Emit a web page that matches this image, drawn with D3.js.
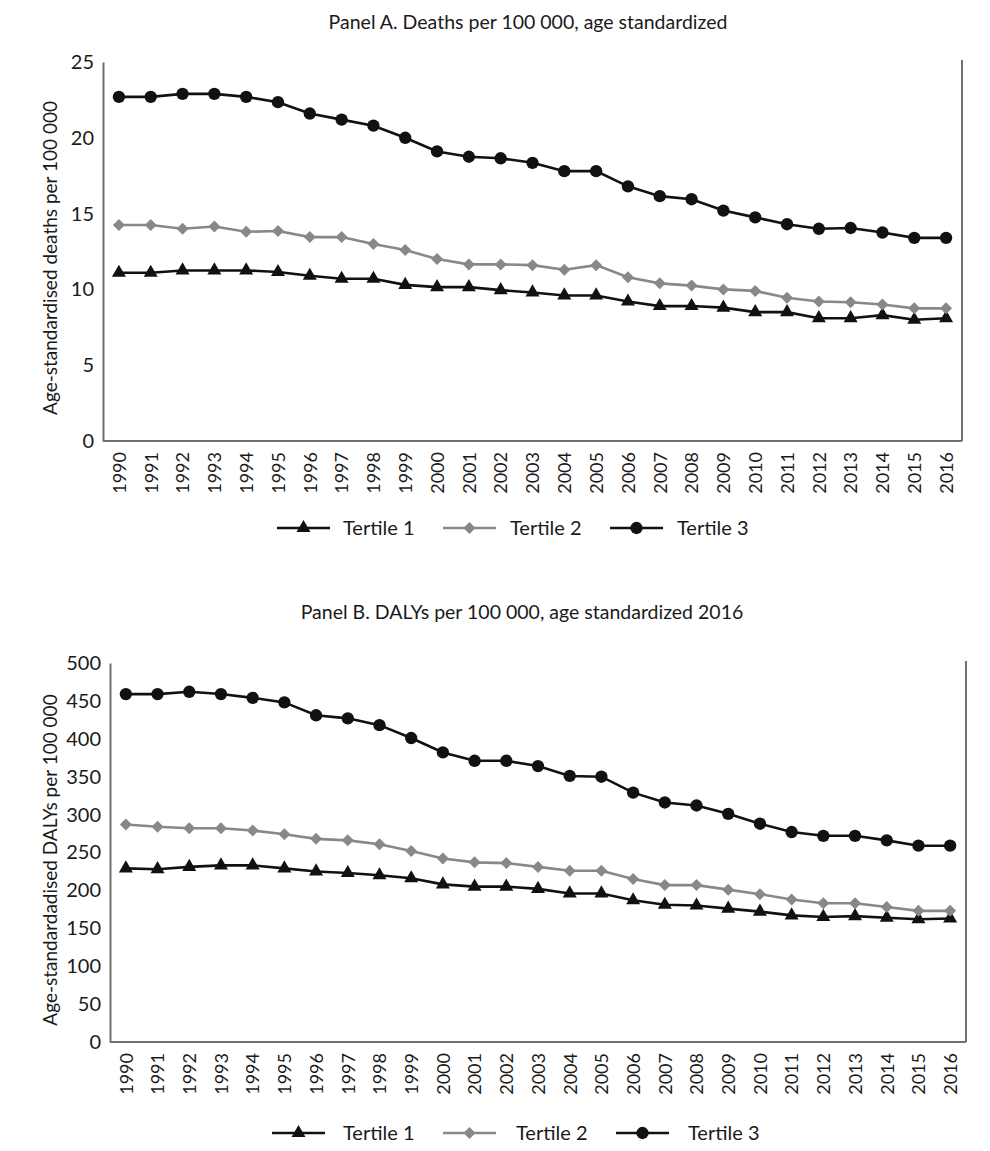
<!DOCTYPE html>
<html>
<head>
<meta charset="utf-8">
<script src="https://cdn.jsdelivr.net/npm/d3@7.9.0/dist/d3.min.js"></script>
<style>
  body { margin: 0; background: #fff; }
  text { font-family: Lato, "Open Sans", sans-serif; fill: #1a1a1a; }
</style>
</head>
<body>
<svg id="chart" width="990" height="1151"></svg>
<script>
const years = d3.range(1990, 2017).map(String);
const seriesNames = ["Tertile 1", "Tertile 2", "Tertile 3"];

// Panel A: deaths per 100 000
const deathsT1 = [11.1, 11.1, 11.25, 11.25, 11.25, 11.15, 10.9, 10.7, 10.7, 10.3, 10.15, 10.15, 9.95, 9.8, 9.6, 9.6, 9.2, 8.9, 8.9, 8.8, 8.5, 8.5, 8.1, 8.1, 8.3, 8.0, 8.1];
const deathsT2 = [14.25, 14.25, 14.0, 14.15, 13.8, 13.85, 13.45, 13.45, 13.0, 12.6, 12.0, 11.65, 11.65, 11.6, 11.3, 11.6, 10.8, 10.4, 10.25, 10.0, 9.9, 9.45, 9.2, 9.15, 9.0, 8.75, 8.75];
const deathsT3 = [22.7, 22.7, 22.9, 22.9, 22.7, 22.35, 21.6, 21.2, 20.8, 20.0, 19.1, 18.75, 18.65, 18.35, 17.8, 17.8, 16.8, 16.15, 15.95, 15.2, 14.75, 14.3, 14.0, 14.05, 13.75, 13.4, 13.4];
const deathsTicks = [0, 5, 10, 15, 20, 25];

// Panel B: DALYs per 100 000
const dalysT1 = [229, 228, 231, 233, 233, 229, 225, 223, 220, 216, 208, 205, 205, 202, 196, 196, 187, 181, 180, 176, 172, 167, 165, 166, 164, 162, 163];
const dalysT2 = [287, 284, 282, 282, 279, 274, 268, 266, 261, 252, 242, 237, 236, 231, 226, 226, 215, 207, 207, 201, 195, 188, 183, 183, 178, 173, 173];
const dalysT3 = [459, 459, 462, 459, 454, 448, 431, 427, 418, 401, 382, 371, 371, 364, 351, 350, 329, 316, 312, 301, 288, 277, 272, 272, 266, 259, 259];
const dalysTicks = [0, 50, 100, 150, 200, 250, 300, 350, 400, 450, 500];

const colors = ["#111", "#888", "#111"];
const shapes = [d3.symbolTriangle, d3.symbolSquare, d3.symbolCircle];
const shapeSizes = [85, 72, 120];
const shapeRotate = [0, 45, 0];

const svg = d3.select("#chart");
svg.append("rect").attr("width", 990).attr("height", 1151).attr("fill", "#fff");

function drawPanel(p) {
  const g = svg.append("g");
  const x = d3.scalePoint().domain(years).range([p.left, p.right]).padding(0.5);
  const y = d3.scaleLinear().domain([0, p.max]).range([p.bottom, p.top]);

  g.append("text")
    .attr("x", p.titleX).attr("y", p.titleY)
    .attr("text-anchor", "middle")
    .style("font-size", "19.5px")
    .text(p.title);

  // y axis
  const ya = g.append("g").attr("transform", `translate(${p.left},0)`)
    .call(d3.axisLeft(y).tickValues(p.ticks).tickSize(0).tickPadding(9));
  ya.select(".domain").attr("stroke", "#707070").attr("stroke-width", 2);
  ya.selectAll("text").style("font-size", "20px").style("font-family", "Lato, sans-serif").attr("fill", "#1a1a1a");

  // x axis
  const xa = g.append("g").attr("transform", `translate(0,${p.bottom})`)
    .call(d3.axisBottom(x).tickSize(0).tickPadding(0));
  xa.select(".domain").attr("stroke", "#707070").attr("stroke-width", 2)
    .attr("d", `M${p.left},0H${p.right}`);
  xa.selectAll("text")
    .style("font-size", "18px").style("font-family", "Lato, sans-serif").attr("fill", "#1a1a1a")
    .attr("text-anchor", "end")
    .attr("transform", "rotate(-90)")
    .attr("x", -11).attr("y", 0).attr("dy", "0.35em");

  // right border
  g.append("line")
    .attr("x1", p.right).attr("x2", p.right)
    .attr("y1", p.top - 2).attr("y2", p.bottom)
    .attr("stroke", "#707070").attr("stroke-width", 2);

  // y label
  g.append("text")
    .attr("transform", `translate(${p.labelX},${p.labelY}) rotate(-90)`)
    .attr("text-anchor", "middle")
    .style("font-size", "19px")
    .text(p.yLabel);

  const line = d3.line().x((d, i) => x(years[i])).y(d => y(d));

  p.series.forEach((vals, si) => {
    g.append("path")
      .attr("d", line(vals))
      .attr("fill", "none")
      .attr("stroke", colors[si])
      .attr("stroke-width", 2.6);
    g.selectAll(null).data(vals).enter().append("path")
      .attr("d", d3.symbol(shapes[si], shapeSizes[si]))
      .attr("transform", (d, i) => `translate(${x(years[i])},${y(d)}) rotate(${shapeRotate[si]})`)
      .attr("fill", colors[si]);
  });

  // legend
  seriesNames.forEach((name, si) => {
    const lx = p.legendX[si];
    const lg = g.append("g").attr("transform", `translate(${lx},${p.legendY})`);
    lg.append("line").attr("x1", 0).attr("x2", 53)
      .attr("stroke", colors[si]).attr("stroke-width", 2.6);
    lg.append("path")
      .attr("d", d3.symbol(shapes[si], shapeSizes[si]))
      .attr("transform", `translate(26.5,0) rotate(${shapeRotate[si]})`)
      .attr("fill", colors[si]);
    lg.append("text")
      .attr("x", p.legendGap[si]).attr("dy", "0.35em")
      .style("font-size", "20px")
      .text(name);
  });
}

drawPanel({
  title: "Panel A. Deaths per 100 000, age standardized",
  titleX: 528, titleY: 29,
  yLabel: "Age-standardised deaths per 100 000",
  labelX: 57, labelY: 258,
  left: 103, right: 962, top: 62, bottom: 441,
  max: 25, ticks: deathsTicks,
  series: [deathsT1, deathsT2, deathsT3],
  legendX: [277, 443, 610], legendGap: [66, 67, 67], legendY: 528
});

drawPanel({
  title: "Panel B. DALYs per 100 000, age standardized 2016",
  titleX: 522, titleY: 619,
  yLabel: "Age-standardadised DALYs per 100 000",
  labelX: 57, labelY: 860,
  left: 110, right: 966, top: 663, bottom: 1042,
  max: 500, ticks: dalysTicks,
  series: [dalysT1, dalysT2, dalysT3],
  legendX: [272, 443, 616], legendGap: [71, 73, 72], legendY: 1133
});
</script>
</body>
</html>
